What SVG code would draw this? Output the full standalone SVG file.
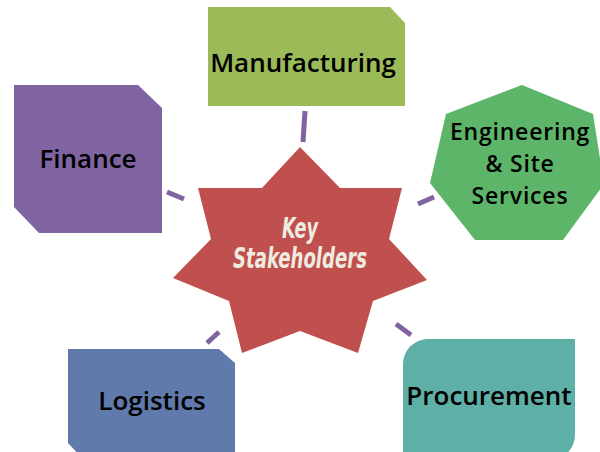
<svg xmlns="http://www.w3.org/2000/svg" width="600" height="452" viewBox="0 0 600 452">
  <style>
    .lbl { font-family: "Open Sans", "Noto Sans", "DejaVu Sans", sans-serif; font-weight: 600; font-size: 26px; fill: #000; text-anchor: middle; }
    .lbl.tight { font-size: 23px; letter-spacing: 0.8px; }
    .hub { font-family: "DejaVu Sans Condensed", "DejaVu Sans", sans-serif; font-weight: bold; font-style: italic; font-size: 28px; fill: #EEECE1; text-anchor: middle; }
    .link { stroke: #8064A2; stroke-width: 5; fill: none; }
  </style>
  <rect width="600" height="452" fill="#FFFFFF"/>

  <!-- spokes from the hub to each stakeholder -->
  <g id="connectors">
    <line class="link" x1="305" y1="111" x2="303" y2="142"/>
    <line class="link" x1="167" y1="192" x2="184" y2="199"/>
    <line class="link" x1="418" y1="204" x2="434" y2="197"/>
    <line class="link" x1="207" y1="343" x2="219" y2="332"/>
    <line class="link" x1="396" y1="324" x2="411" y2="335"/>
  </g>

  <g id="hub">
    <polygon fill="#C0504D" points="300,147 340,188 402,188 389,239 427,280 373,301 358,353 300,331 242,353 229,301 173,278 211,239 198,188 262,188"/>
    <text class="hub" x="300" y="238" textLength="36" lengthAdjust="spacingAndGlyphs">Key</text>
    <text class="hub" x="300" y="268" textLength="134" lengthAdjust="spacingAndGlyphs">Stakeholders</text>
  </g>

  <g id="manufacturing">
    <polygon fill="#9BBB59" points="208,7 390,7 405,23 405,106 208,106"/>
    <text class="lbl" x="303" y="72">Manufacturing</text>
  </g>

  <g id="finance">
    <polygon fill="#8064A2" points="14,85 138,85 162,108 162,233 39,233 14,207"/>
    <text class="lbl" x="88" y="168">Finance</text>
  </g>

  <g id="engineering">
    <polygon fill="#5CB569" points="522,85 593,114 604,184 563,240 475,240 430,183 446,114"/>
    <text class="lbl tight" x="520" y="140">Engineering</text>
    <text class="lbl tight" x="520" y="172">&amp; Site</text>
    <text class="lbl tight" x="520" y="204">Services</text>
  </g>

  <g id="logistics">
    <polygon fill="#5F7AAB" points="68,349 219,349 235,363 235,460 84,460 68,443"/>
    <text class="lbl" x="152" y="410">Logistics</text>
  </g>

  <g id="procurement">
    <path fill="#5EAFA6" d="M428,339 H575 V435 A25,25 0 0 1 550,460 H403 V364 A25,25 0 0 1 428,339 Z"/>
    <text class="lbl" x="489" y="405">Procurement</text>
  </g>
</svg>
